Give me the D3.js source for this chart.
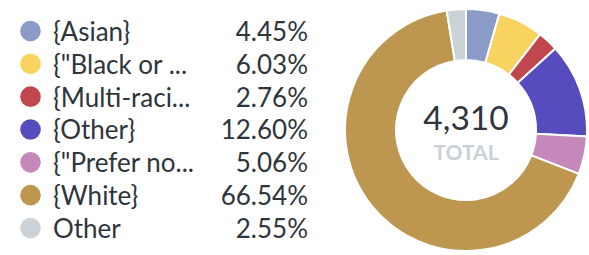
<!DOCTYPE html>
<html>
<head>
<meta charset="utf-8">
<script src="https://cdn.jsdelivr.net/npm/d3@7"></script>
<style>
  html, body { margin: 0; padding: 0; background: #fff; }
  svg { display: block; font-family: Lato, "Open Sans", sans-serif; }
</style>
</head>
<body>
<div id="chart"></div>
<script>
// ===== DATA =====
const labels = ['{Asian}', '{"Black or ...', '{Multi-raci...', '{Other}', '{"Prefer no...', '{White}', 'Other'];
const percents = [4.45, 6.03, 2.76, 12.60, 5.06, 66.54, 2.55];
const colors = ['#8a9bc8', '#f8d35f', '#c1464d', '#574cbd', '#c588ba', '#bd964f', '#cbd2d8'];
const total = 4310;

const width = 589, height = 255;

const svg = d3.select('#chart')
    .append('svg')
    .attr('width', width)
    .attr('height', height);

// ===== LEGEND =====
const rowY = d3.scalePoint()
    .domain(d3.range(labels.length))
    .range([31, 228]);

const legend = svg.append('g')
    .selectAll('g')
    .data(labels)
    .enter().append('g')
    .attr('transform', (d, i) => `translate(0,${rowY(i)})`);

legend.append('circle')
    .attr('cx', 30.5)
    .attr('r', 10.3)
    .attr('fill', (d, i) => colors[i]);

legend.append('text')
    .attr('x', 53)
    .attr('dy', '0.38em')
    .attr('font-size', '26px')
    .attr('fill', '#2e353b')
    .text(d => d);

legend.append('text')
    .attr('x', 308)
    .attr('dy', '0.38em')
    .attr('text-anchor', 'end')
    .attr('font-size', '26px')
    .attr('fill', '#2e353b')
    .text((d, i) => percents[i].toFixed(2) + '%');

// ===== DONUT =====
const cx = 466, cy = 130;
const outerR = 121, innerR = 70;

const pie = d3.pie().sort(null).value(d => d);
const arc = d3.arc().innerRadius(innerR).outerRadius(outerR);

const donut = svg.append('g')
    .attr('transform', `translate(${cx},${cy})`);

donut.selectAll('path')
    .data(pie(percents))
    .enter().append('path')
    .attr('d', arc)
    .attr('fill', (d, i) => colors[i])
    .attr('stroke', '#fff')
    .attr('stroke-width', 2);

donut.append('text')
    .attr('y', 0)
    .attr('text-anchor', 'middle')
    .attr('font-size', '33.5px')
    .attr('fill', '#2e353b')
    .text(d3.format(',')(total));

donut.append('text')
    .attr('y', 30)
    .attr('text-anchor', 'middle')
    .attr('font-size', '21px')
    .attr('font-weight', 'bold')
    .attr('fill', '#c9d0d6')
    .text('TOTAL');
</script>
</body>
</html>
